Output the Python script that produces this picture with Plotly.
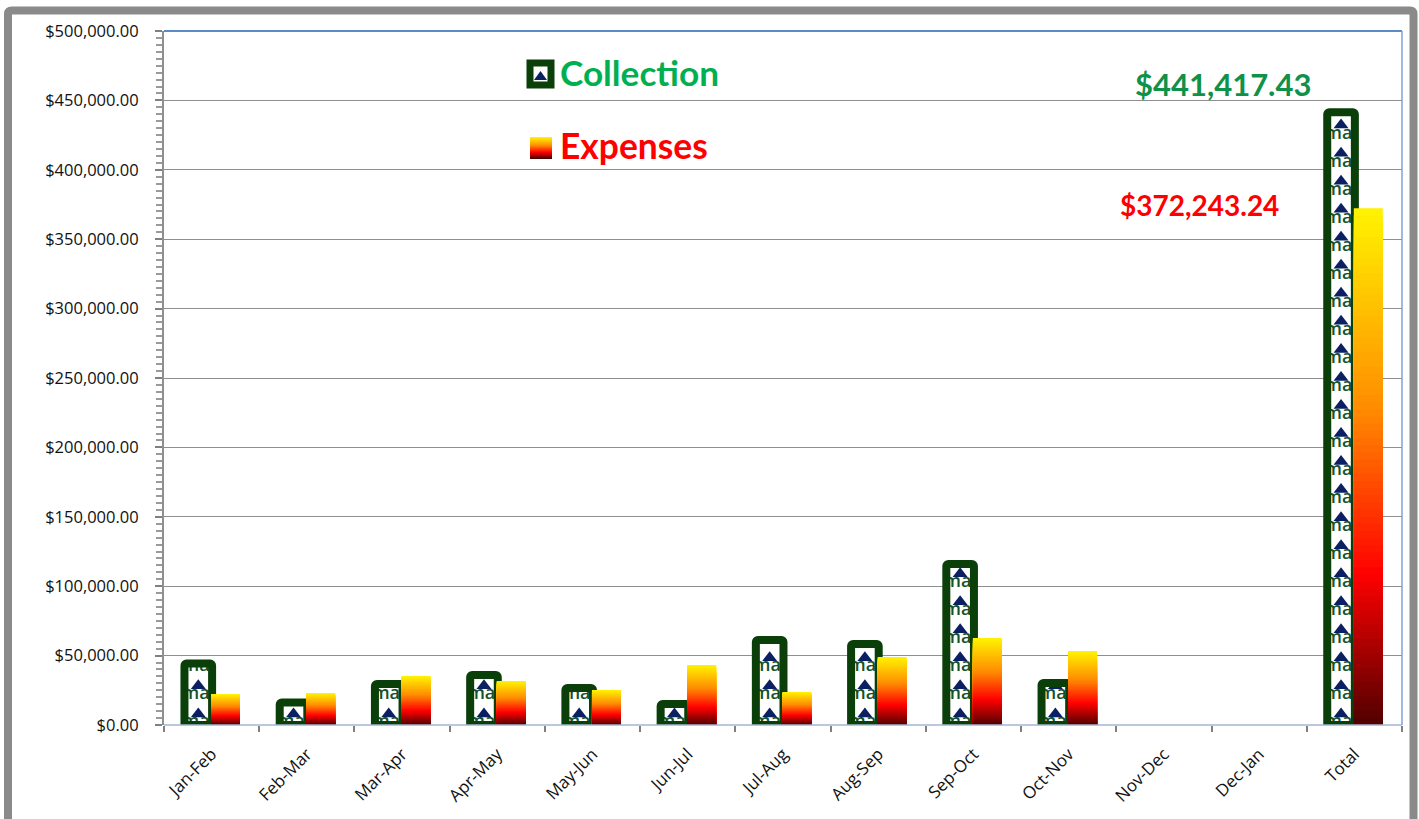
import numpy as np
import plotly.graph_objects as go

periods = ["Jan-Feb", "Feb-Mar", "Mar-Apr", "Apr-May", "May-Jun", "Jun-Jul", "Jul-Aug",
           "Aug-Sep", "Sep-Oct", "Oct-Nov", "Nov-Dec", "Dec-Jan", "Total"]
collection = [44300, 16200, 29500, 36000, 26700, 15100, 61200, 58400, 116000, 30300, None, None, 441417.43]
expenses = [22300, 23000, 35300, 31700, 25200, 43200, 23800, 49000, 62700, 53300, None, None, 372243.24]

W, H = 1419, 819
L, R, T, B = 164, 1402, 31, 725
Y_MAX = 500000
TILE = 20200
SLICES = 72
BAR_W = 0.29
COL_OFF = -0.285
EXP_OFF = -0.006
GREEN = "#0a3f0a"
STOPS = [(0.0, (75, 0, 0)), (0.3, (255, 0, 0)), (0.62, (255, 140, 0)), (1.0, (255, 242, 0))]


def grad(t):
    for (a, ca), (b, cb) in zip(STOPS, STOPS[1:]):
        if t <= b:
            f = (t - a) / (b - a)
            return "rgb(%d,%d,%d)" % tuple(round(x + (y - x) * f) for x, y in zip(ca, cb))
    return "rgb(255,242,0)"


def px(x):
    return (x - L) / (R - L)


def py(y):
    return (B - y) / (B - T)


fig = go.Figure()

# layer 1: white interior of the collection bars
fig.add_trace(go.Bar(x=periods, y=collection, width=BAR_W, offset=COL_OFF, xaxis="x", yaxis="y",
                     marker=dict(color="white", line=dict(width=0)), showlegend=False,
                     name="Collection"))

# layer 2: repeating picture tile inside the collection bars
wx, word, rx, roof = [], [], [], []
for i, v in enumerate(collection):
    if not v:
        continue
    for k in range(int(v // TILE) + 1):
        if k * TILE + 1500 < v:
            wx.append(i + COL_OFF + BAR_W / 2)
            word.append(k * TILE + 1500)
        if k * TILE + 10000 < v:
            rx.append(i + COL_OFF + BAR_W / 2)
            roof.append(k * TILE + 8000)
fig.add_trace(go.Scatter(x=wx, y=word, mode="text", text=["ma\u0131"] * len(wx), xaxis="x2", yaxis="y2",
                         textfont=dict(family="Open Sans", size=18, color="#14532a", weight=600),
                         textposition="middle center", showlegend=False, hoverinfo="skip"))
fig.add_trace(go.Scatter(x=rx, y=roof, mode="markers", xaxis="x2", yaxis="y2",
                         marker=dict(symbol="triangle-up", size=13, color="#0b1f63", line=dict(width=0)),
                         showlegend=False, hoverinfo="skip"))

# layer 3: border of the collection bars and gradient expense bars
fig.add_trace(go.Bar(x=periods, y=collection, width=BAR_W, offset=COL_OFF, xaxis="x3", yaxis="y3",
                     marker=dict(color="rgba(0,0,0,0)", line=dict(color=GREEN, width=8), cornerradius=2),
                     showlegend=False, name="Collection"))
ev = np.array([e if e else 0 for e in expenses], dtype=float)
for n in range(SLICES):
    t = 1 - n / SLICES
    fig.add_trace(go.Bar(x=periods, y=ev * t, width=0.304, offset=EXP_OFF, xaxis="x3", yaxis="y3",
                         marker=dict(color=grad(t), line=dict(width=0)),
                         showlegend=False, name="Expenses", hoverinfo="skip"))

shapes = [
    # outer frame, open at the bottom
    dict(type="path", xref="paper", yref="paper", line=dict(color="#8a8a8a", width=8),
         path=f"M {px(8)},{py(830)} L {px(8)},{py(14)} Q {px(8)},{py(10.5)} {px(12)},{py(10.5)} "
              f"L {px(1410)},{py(10.5)} Q {px(1413.5)},{py(10.5)} {px(1413.5)},{py(14)} L {px(1413.5)},{py(830)}"),
    # plot box
    dict(type="line", xref="paper", yref="paper", x0=0, x1=1, y0=1, y1=1, line=dict(color="#5b8ac4", width=2), layer="above"),
    dict(type="line", xref="paper", yref="paper", x0=1, x1=1, y0=0, y1=1, line=dict(color="#7fa3d0", width=1.5), layer="above"),
    dict(type="line", xref="paper", yref="paper", x0=0, x1=1, y0=0, y1=0, line=dict(color="#a3b5d0", width=1.5), layer="above"),
    # legend icon: collection
    dict(type="rect", xref="paper", yref="paper", x0=px(530), x1=px(551), y0=py(63), y1=py(85),
         fillcolor="white", line=dict(color=GREEN, width=7)),
    dict(type="path", xref="paper", yref="paper", fillcolor="#0b1f63", line=dict(width=0),
         path=f"M {px(534)},{py(80)} L {px(540.5)},{py(71)} L {px(547)},{py(80)} Z"),
]
# legend icon: expenses
for n in range(22):
    shapes.append(dict(type="rect", xref="paper", yref="paper", x0=px(530), x1=px(552),
                       y0=py(159 - n), y1=py(158 - n), fillcolor=grad(n / 21), line=dict(width=0)))

LABEL = "Lato"
annotations = [
    dict(text="Collection", x=px(558), y=py(72), font=dict(family=LABEL, size=35.2, color="#00b050", weight="bold")),
    dict(text="Expenses", x=px(558), y=py(145), font=dict(family=LABEL, size=35.4, color="#ff0000", weight="bold")),
    dict(text=f"${collection[-1]:,.2f}", x=px(1133), y=py(84), font=dict(family=LABEL, size=31, color="#0f9149", weight="bold")),
    dict(text=f"${expenses[-1]:,.2f}", x=px(1118), y=py(205), font=dict(family=LABEL, size=28, color="#ff0000", weight="bold")),
]
for a in annotations:
    a.update(xref="paper", yref="paper", xanchor="left", yanchor="middle", showarrow=False)

rng_y = [0, Y_MAX]
fig.update_layout(
    width=W, height=H, autosize=False,
    margin=dict(l=L, r=W - R, t=T, b=H - B, pad=0),
    paper_bgcolor="white", plot_bgcolor="white", barmode="overlay", showlegend=False,
    shapes=shapes, annotations=annotations,
    font=dict(family="Open Sans", size=16.5, color="#111111"),
    xaxis=dict(type="category", categoryorder="array", categoryarray=periods, tickson="boundaries",
               ticks="outside", ticklen=6, tickcolor="#808080", tickwidth=1.5, tickangle=-45,
               showgrid=False, showline=False, tickfont=dict(size=17), zeroline=False,
               ticklabelstandoff=15),
    yaxis=dict(range=rng_y, dtick=50000, tickformat="$,.2f", ticks="outside", ticklen=7,
               tickcolor="#808080", tickwidth=1.5, showgrid=True, gridcolor="#8f8f8f", gridwidth=1.3,
               showline=True, linecolor="#8f8f8f", linewidth=2, zeroline=False,
               minor=dict(dtick=5000, ticks="outside", ticklen=6, tickcolor="#9a9a9a", tickwidth=1.5, showgrid=False),
               tickfont=dict(size=16.5), ticklabelstandoff=13),
    xaxis2=dict(overlaying="x", range=[-0.5, 12.5], visible=False, anchor="y2"),
    yaxis2=dict(overlaying="y", range=rng_y, visible=False, anchor="x2"),
    xaxis3=dict(overlaying="x", type="category", categoryorder="array", categoryarray=periods, visible=False, anchor="y3"),
    yaxis3=dict(overlaying="y", range=rng_y, visible=False, anchor="x3"),
)

fig.write_html("out.html", config=dict(displayModeBar=False),
               post_script="document.body.style.margin='0';document.body.style.overflow='hidden';")
